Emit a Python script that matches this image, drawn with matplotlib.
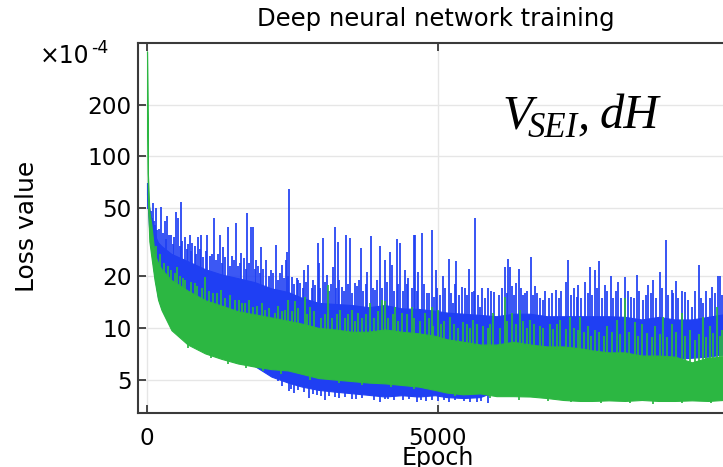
import numpy as np
import matplotlib
matplotlib.use("Agg")
import matplotlib.pyplot as plt
from matplotlib.ticker import NullLocator, FixedLocator

# ---------------- data (loss values in units of 1e-4) ----------------
env_epochs = [0, 15, 40, 75, 130, 190, 250, 420, 700, 1000, 1280, 1565, 1850, 2140,
              2425, 2660, 2950, 3230, 3520, 3810, 4090, 4380, 4670, 4950, 5150, 5440,
              5730, 6010, 6300, 6590, 6880, 7160, 7450, 7650, 7940, 8220, 8510, 8800,
              9080, 9370, 9650, 9910, 10100]

green_low = [410, 55, 32, 26, 19, 14.6, 12.7, 9.7, 8.0, 7.1, 6.6, 6.2, 5.95, 5.75,
             5.65, 5.4, 5.1, 5.0, 4.9, 4.8, 4.75, 4.65, 4.55, 4.35, 4.2, 4.1,
             4.15, 4.0, 4.0, 3.98, 3.9, 3.8, 3.75, 3.75, 3.78, 3.75, 3.8, 3.75,
             3.75, 3.78, 3.75, 3.8, 3.8]
green_high = [410, 80, 48, 40, 27, 24, 22, 19, 16.5, 14.5, 13.5, 12.5, 12.0, 11.5,
              11.0, 10.6, 10.0, 9.8, 9.5, 9.5, 9.8, 9.5, 9.3, 9.0, 8.6, 8.3,
              8.0, 8.0, 8.3, 8.0, 7.8, 7.8, 7.6, 7.4, 7.2, 7.2, 6.9, 6.9,
              6.8, 6.3, 6.7, 6.8, 6.8]

blue_low = [60, 50, 36, 28, 20, 15, 13, 10, 8.2, 7.3, 6.8, 6.3, 6.0, 5.2,
            4.8, 4.55, 4.35, 4.25, 4.16, 4.07, 3.98, 4.05, 3.98, 4.05, 3.95, 3.9,
            3.95, 4.3, 4.6, 4.8, 5.0, 5.2, 5.5, 5.7, 6.0, 6.1, 6.3, 6.5,
            6.6, 6.7, 6.8, 7.0, 7.0]
blue_high = [70, 55, 50, 42, 35, 31.5, 30, 27, 24.5, 22, 20.5, 19.5, 18.5, 17,
             16.2, 15, 14, 13.8, 13.6, 13.2, 13.6, 13.0, 12.9, 12.6, 12.3, 12.1,
             11.9, 11.7, 12.1, 12.1, 11.7, 11.7, 11.7, 11.7, 11.7, 11.6, 11.2, 11.6,
             11.2, 11.2, 11.6, 12.0, 12.0]

# tall blue spikes
blue_spike_epochs = [17, 34, 103, 160, 235, 304, 350, 418, 504, 533, 579, 648, 734, 780,
                     877, 934, 1037, 1078, 1152, 1250, 1307, 1393, 1467, 1536, 1622, 1668,
                     1725, 1783, 1823, 1880, 1966, 2052, 2127, 2224, 2322, 2396,
                     2403, 2448, 2489, 2575, 2632, 2701, 2775, 2890, 2936, 2959, 3033, 3091,
                     3205, 3234, 3280, 3349, 3417, 3492, 3578, 3681, 3790, 3853, 3922, 4008,
                     4094, 4180, 4209, 4295, 4352, 4438, 4495, 4598, 4610, 4667, 4725, 4811,
                     4897, 4942, 4971, 5086, 5195, 5258, 5321, 5413, 5545, 5596, 5648, 5728,
                     5871, 5975, 6158, 6210, 6244, 6347, 6399, 6502, 6599, 6703, 6817, 7035,
                     7207, 7247, 7391, 7408, 7534, 7620, 7706, 7781, 7878, 7975, 8107, 8222,
                     8325, 8428, 8537, 8623, 8709, 8824, 8927, 9025, 9093, 9254, 9369, 9495,
                     9569, 9724, 9816, 9862]
blue_spike_values = [55.8, 54.6, 53.4, 50, 51, 42, 45, 34.8, 47.7, 43.6, 54.6, 34.1, 34.8, 31.2,
                     34.1, 34.8, 34.8, 26.1, 43.6, 34.8, 29.8, 39, 26.1, 40.8, 27.3, 25.5,
                     46.6, 39, 39, 24.9, 29.8, 24.9, 21.8, 30.5, 23.3, 24.9,
                     27.9, 64.4, 19.9, 19.5, 18.2, 21.8, 23.3, 17.8, 31.2, 23.8, 33.3, 20.4,
                     22.8, 38.6, 31.9, 17.4, 34.6, 33.3, 18.2, 29.1, 21.3, 34.4, 16.7, 30.0,
                     24.9, 27.9, 23.3, 32.8, 31.2, 21.8, 19.5, 34.8, 34.9, 21.3, 35.9, 15.9,
                     37.3, 15.2, 21.8, 20.1, 25.1, 13.9, 24.4, 17.4, 22.2, 16.3, 43.6, 13.3,
                     17.1, 16.1, 22.6, 25.3, 22.6, 18.2, 22.2, 15.9, 26.0, 15.9, 14.6, 16.7,
                     18.5, 24.9, 15.2, 17.8, 18.5, 22.8, 21.8, 24.7, 17.9, 20.1, 18.5, 19.7,
                     15.2, 20.4, 14.6, 17.8, 19.1, 21.3, 32.6, 16.7, 18.7, 16.3, 13.3, 23.3,
                     13.9, 17.4, 20.2, 20.2]

# medium blue spikes (texture of the upper edge)
blue_mid_epochs = [60, 90, 120, 145, 175, 205, 270, 330, 380, 445, 470, 560, 610, 680, 710,
                   760, 820, 850, 905, 960, 1010, 1110, 1180, 1220, 1290, 1340, 1430, 1500,
                   1560, 1600, 1700, 1750, 1850, 1910, 1940, 2000, 2090, 2160, 2260, 2290,
                   2350, 2420, 2520, 2600, 2680, 2740, 2830, 2860, 2980, 3060, 3130, 3170,
                   3250, 3310, 3380, 3450, 3530, 3620, 3650, 3720, 3760, 3880, 3950, 4050,
                   4130, 4240, 4320, 4400, 4470, 4560, 4640, 4760, 4850, 4990, 5040, 5130,
                   5230, 5290, 5360, 5470, 5510, 5620, 5690, 5770, 5820, 5920, 6050, 6100,
                   6190, 6280, 6320, 6430, 6470, 6540, 6640, 6670, 6760, 6850, 6910, 6970,
                   7080, 7120, 7300, 7340, 7470, 7580, 7660, 7740, 7830, 7920, 8020, 8060,
                   8150, 8270, 8370, 8470, 8580, 8660, 8760, 8860, 8960, 9050, 9140, 9200,
                   9310, 9420, 9530, 9610, 9680, 9770, 9890, 9950]
blue_mid_values = [48, 44, 42, 40, 37, 38, 36, 33, 35, 31, 34, 30, 32, 29, 31,
                   28, 30, 27, 29, 26, 28, 27, 25, 27, 24, 26, 23, 25,
                   23, 24, 22, 24, 22, 23, 21, 22, 20, 21, 19, 21,
                   19.5, 20, 18, 19, 17, 18.5, 17, 19, 17, 18.5, 16.5, 18,
                   17, 19, 16.5, 18, 16, 17.5, 19, 16.5, 18, 17, 19, 17,
                   18.5, 16.5, 18, 16.5, 18, 17, 16.5, 18, 16, 17, 15.5, 17,
                   16, 18, 15.5, 17, 15.5, 16.5, 15.5, 17, 15, 16.5, 15.5, 17,
                   16, 17.5, 15.5, 17, 15.5, 16.5, 15.5, 17.5, 15, 16.5, 15, 16,
                   15, 16.5, 15.5, 17, 15, 16, 15.5, 17, 15, 16.5, 15, 16.5,
                   15, 16.5, 15, 16.5, 15.5, 16, 15, 17, 15.5, 16, 15, 16.5,
                   14.5, 16.5, 15, 16.5, 15, 16, 15.5, 17]

# downward blue excursions (lower edge)
blue_dip_epochs = [2250, 2330, 2440, 2480, 2530, 2600, 2700, 2780, 2850, 2920, 3000, 3060,
                   3130, 3240, 3300, 3400, 3520, 3600, 3700, 3900, 4010, 4090, 4150, 4250,
                   4400, 4500, 4650, 4720, 4800, 4900, 5000, 5100, 5200, 5300, 5450, 5550,
                   5670, 5750, 5860]
blue_dip_values = [4.9, 4.6, 4.3, 4.4, 4.2, 4.35, 4.25, 3.9, 4.1, 4.05, 4.0, 3.8,
                   4.0, 3.95, 3.9, 3.95, 3.85, 3.85, 3.9, 3.8, 3.72, 3.85, 3.85, 3.8,
                   3.8, 3.85, 3.72, 3.8, 3.75, 3.8, 3.75, 3.8, 3.7, 3.8, 3.75, 3.72,
                   3.7, 3.75, 3.64]

# green spikes
green_spike_epochs = [418, 522, 648, 820, 992, 1135, 1278, 1507, 1680, 1823, 2024, 2196, 2367,
                      2431, 2546, 2718, 2804, 3119, 3320, 3520, 3635, 3836, 4037, 4094, 4266,
                      4380, 4552, 4782, 4925, 4897, 5011, 5212, 5441, 5613, 5785, 5957, 6158,
                      6273, 6416, 6588, 6760, 6932, 7104, 7276, 7419, 7448, 7591, 7706, 7907,
                      8079, 8222, 8394, 8509, 8738, 8881, 9025, 9197, 9340, 9569, 9684, 9799, 9885]
green_spike_values = [21.8, 22.8, 19.0, 18.2, 19.9, 15.9, 16.7, 14.6, 13.9, 13.3, 12.7, 12.2, 12.7,
                      14.6, 14.3, 15.2, 13.3, 17.8, 12.7, 12.7, 12.2, 13.9, 14.6, 14.3, 13.3,
                      12.2, 13.3, 12.2, 10.2, 13.3, 12.7, 11.6, 10.9, 11.1, 10.2, 12.2, 15.2,
                      12.2, 12.7, 11.1, 10.2, 10.6, 11.1, 11.6, 9.7, 11.6, 10.2, 9.7, 10.2,
                      11.1, 14.9, 10.9, 10.6, 10.2, 11.6, 10.6, 12.2, 9.7, 11.6, 10.2, 13.3, 9.7]

green_mid_epochs = [150, 220, 300, 360, 480, 560, 620, 760, 860, 940, 1060, 1200, 1340, 1420,
                    1580, 1640, 1760, 1900, 1980, 2100, 2250, 2320, 2500, 2600, 2760, 2880,
                    2990, 3060, 3180, 3270, 3400, 3460, 3580, 3700, 3760, 3900, 3980, 4150,
                    4230, 4320, 4480, 4600, 4700, 4850, 5060, 5100, 5280, 5350, 5500, 5560,
                    5680, 5860, 5900, 6070, 6200, 6350, 6460, 6530, 6650, 6810, 6990, 7050,
                    7200, 7340, 7520, 7640, 7780, 7860, 7990, 8130, 8290, 8440, 8600, 8680,
                    8820, 8950, 9100, 9260, 9430, 9500, 9620, 9740, 9850, 9960]
green_mid_values = [30, 27, 24, 23, 21, 20, 19.5, 18.5, 17.5, 17, 16.5, 16, 15, 15.5,
                    14.5, 14, 14.5, 13.5, 14, 13, 13.5, 12.5, 12.5, 13, 12, 12.5,
                    11.5, 12, 11.5, 12, 11.5, 12, 11, 11.5, 12, 11.5, 12.5, 11.5,
                    12, 11, 12, 11.5, 11, 11.5, 10.5, 11, 10.5, 10, 10.5, 10,
                    10.5, 10, 10.5, 10, 11, 10.5, 11, 10, 10.5, 10, 9.8, 10.5,
                    9.8, 10, 9.5, 9, 9.5, 9, 9.5, 9.2, 9.5, 9, 9.3, 8.8,
                    9.2, 8.8, 9.5, 9, 8.5, 9.2, 8.8, 9.3, 9, 9.5]

green_dip_epochs = [700, 1100, 1400, 1700, 2000, 2300, 2800, 3300, 3700, 4200, 4600, 5300,
                    5900, 6400, 6900, 7300, 7800, 8300, 8700, 9200, 9700]
green_dip_values = [7.6, 6.7, 6.2, 5.8, 5.6, 5.4, 5.0, 4.8, 4.65, 4.55, 4.4, 4.0,
                    3.9, 3.82, 3.75, 3.68, 3.65, 3.65, 3.62, 3.65, 3.63]

y_ticks = [5, 10, 20, 50, 100, 200]
y_tick_labels = ['5', '10', '20', '50', '100', '200']
x_ticks = [0, 5000, 10000]
x_tick_labels = ['0', '5000', '']

# ---------------- figure ----------------
W, H = 723, 467
fig = plt.figure(figsize=(W / 100, H / 100), dpi=100)
ax = fig.add_axes([138 / W, 1 - 413 / H, (734 - 138) / W, (413 - 42.5) / H])
ax.set_yscale('log')
ax.set_xlim(-155, 10096)
ax.set_ylim(3.19, 462)

blue = '#1f3ff3'
green = '#2cb742'
env = np.array(env_epochs)
LW = 1.25

ax.fill_between(env, blue_low, blue_high, color=blue, lw=0.8, edgecolor=blue, zorder=2)
for ep, val in ((blue_spike_epochs, blue_spike_values), (blue_mid_epochs, blue_mid_values)):
    base = np.interp(ep, env, blue_high) * 0.9
    ax.vlines(ep, base, val, color=blue, lw=LW, zorder=2)
dtop = np.interp(blue_dip_epochs, env, blue_low) * 1.1
ax.vlines(blue_dip_epochs, blue_dip_values, dtop, color=blue, lw=LW, zorder=2)

ax.fill_between(env, green_low, green_high, color=green, lw=0.8, edgecolor=green, zorder=3)
for ep, val in ((green_spike_epochs, green_spike_values), (green_mid_epochs, green_mid_values)):
    base = np.interp(ep, env, green_high) * 0.9
    ax.vlines(ep, base, val, color=green, lw=LW, zorder=3)
gtop = np.interp(green_dip_epochs, env, green_low) * 1.1
ax.vlines(green_dip_epochs, green_dip_values, gtop, color=green, lw=LW, zorder=3)

# axes styling
ax.yaxis.set_major_locator(FixedLocator(y_ticks))
ax.set_yticklabels(y_tick_labels)
ax.yaxis.set_minor_locator(NullLocator())
ax.set_xticks(x_ticks)
ax.set_xticklabels(x_tick_labels)
ax.grid(True, color='#e6e6e6', lw=1.0, zorder=0)
ax.set_axisbelow(True)
for s in ['left', 'bottom', 'top']:
    ax.spines[s].set_color('#3a3a3a')
    ax.spines[s].set_linewidth(1.5)
ax.spines['right'].set_visible(False)
ax.tick_params(axis='both', direction='in', length=6, width=1.3, color='#3a3a3a',
               labelsize=16.7, labelcolor='black')
ax.tick_params(axis='x', top=True, pad=10.0)
ax.tick_params(axis='y', right=False, pad=4.5)

fig.text(436 / W, 1 - 26 / H, 'Deep neural network training', ha='center', va='baseline',
         fontsize=17.5)
fig.text(27.5 / W, 1 - 226 / H, 'Loss value', rotation=90, ha='center', va='center',
         fontsize=18)
fig.text(438 / W, 1 - 465 / H, 'Epoch', ha='center', va='baseline', fontsize=17)
fig.text(40 / W, 1 - 63 / H, '\u00d710', ha='left', va='baseline', fontsize=17)
fig.text(91 / W, 1 - 53 / H, '-4', ha='left', va='baseline', fontsize=12.5)

serif = dict(family='Liberation Serif', style='italic', va='baseline', ha='left')
fig.text(502 / W, 1 - 128 / H, 'V', fontsize=35, **serif)
fig.text(528 / W, 1 - 137 / H, 'SEI', fontsize=25, **serif)
fig.text(577 / W, 1 - 128 / H, ',', fontsize=35, **serif)
fig.text(600 / W, 1 - 128 / H, 'dH', fontsize=35, **serif)

fig.savefig('out.png', dpi=100)
